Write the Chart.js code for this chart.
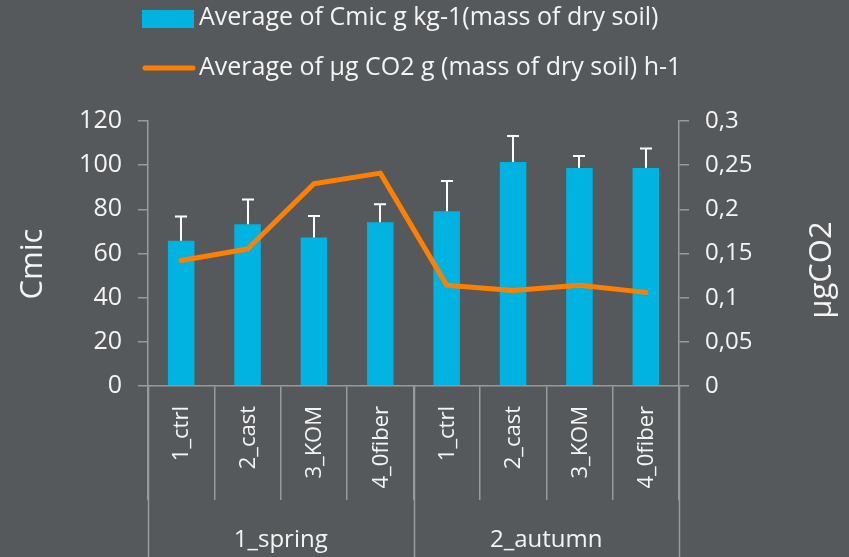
<!DOCTYPE html>
<html>
<head>
<meta charset="utf-8">
<script src="https://cdn.jsdelivr.net/npm/chart.js@4"></script>
<style>
  html, body { margin: 0; padding: 0; background: #55595c; }
  #wrap { width: 849px; height: 557px; }
</style>
</head>
<body>
<div id="wrap"><canvas id="chart" width="849" height="557"></canvas></div>
<script>
const seasons = ['1_spring', '2_autumn'];
const treatments = ['1_ctrl', '2_cast', '3_KOM', '4_0fiber'];
const categories = ['1_ctrl', '2_cast', '3_KOM', '4_0fiber', '1_ctrl', '2_cast', '3_KOM', '4_0fiber'];
const cmicValues = [65.8, 73.2, 67.2, 74.1, 79.1, 101.4, 98.7, 98.7];
const cmicErrors = [10.9, 11.2, 9.8, 8.2, 13.7, 11.8, 5.5, 8.9];
const co2Values = [0.142, 0.155, 0.229, 0.241, 0.114, 0.108, 0.114, 0.106];
const leftTicks = [0, 120, 20];
const rightTicks = [0, 0.3, 0.05];

const bg = '#55595c';
const textColor = '#f4f4f4';
const axisColor = '#9a9a9a';
const barColor = '#00b3e0';
const lineColor = '#ff8000';
const font = '"Open Sans", "Noto Sans", sans-serif';
const cmicLabel = 'Average of Cmic g kg-1(mass of dry soil)';
const co2Label = 'Average of µg CO2 g (mass of dry soil) h-1';

const decorations = {
  id: 'decorations',
  beforeDraw(chart) {
    const ctx = chart.ctx;
    ctx.save();
    ctx.fillStyle = bg;
    ctx.fillRect(0, 0, chart.width, chart.height);
    ctx.restore();
  },
  afterDatasetsDraw(chart) {
    const ctx = chart.ctx;
    const x = chart.scales.x;
    const y = chart.scales.y;
    const area = chart.chartArea;

    // error bars (upper only)
    ctx.save();
    ctx.strokeStyle = '#ffffff';
    ctx.lineWidth = 2;
    cmicValues.forEach((v, i) => {
      const px = Math.round(x.getPixelForValue(i));
      const top = y.getPixelForValue(v + cmicErrors[i]);
      const base = y.getPixelForValue(v);
      ctx.beginPath();
      ctx.moveTo(px, base);
      ctx.lineTo(px, top);
      ctx.moveTo(px - 6, top);
      ctx.lineTo(px + 6, top);
      ctx.stroke();
    });
    ctx.restore();

    // category labels, rotated
    ctx.save();
    ctx.fillStyle = textColor;
    ctx.font = '22px ' + font;
    ctx.textAlign = 'right';
    ctx.textBaseline = 'middle';
    categories.forEach((c, i) => {
      const px = x.getPixelForValue(i);
      ctx.save();
      ctx.translate(px + 1, area.bottom + 20);
      ctx.rotate(-Math.PI / 2);
      ctx.fillText(c, 0, 0);
      ctx.restore();
    });

    // group labels and separators
    const step = (area.right - area.left) / categories.length;
    ctx.font = '24px ' + font;
    ctx.textAlign = 'center';
    seasons.forEach((s, g) => {
      const left = area.left + g * treatments.length * step;
      const right = left + treatments.length * step;
      ctx.fillText(s, (left + right) / 2, 540);
    });
    ctx.strokeStyle = axisColor;
    ctx.lineWidth = 1.5;
    for (let g = 0; g <= seasons.length; g++) {
      const px = Math.round(area.left + g * treatments.length * step) + 0.5;
      ctx.beginPath();
      ctx.moveTo(px, area.bottom);
      ctx.lineTo(px, chart.height);
      ctx.stroke();
    }

    // axis titles
    ctx.font = '31px ' + font;
    ctx.textBaseline = 'middle';
    ctx.save();
    ctx.translate(33, 264);
    ctx.rotate(-Math.PI / 2);
    ctx.fillText('Cmic', 0, 0);
    ctx.restore();
    ctx.save();
    ctx.translate(822, 270);
    ctx.rotate(-Math.PI / 2);
    ctx.fillText('µgCO2', 0, 0);
    ctx.restore();

    // legend
    ctx.font = '25px ' + font;
    ctx.textAlign = 'left';
    ctx.fillStyle = barColor;
    ctx.fillRect(142, 10, 52, 18);
    ctx.strokeStyle = lineColor;
    ctx.lineWidth = 5;
    ctx.lineCap = 'round';
    ctx.beginPath();
    ctx.moveTo(145, 68);
    ctx.lineTo(193, 68);
    ctx.stroke();
    ctx.fillStyle = textColor;
    ctx.fillText(cmicLabel, 199, 18);
    ctx.fillText(co2Label, 199, 68);
    ctx.restore();
  }
};

const ctx = document.getElementById('chart').getContext('2d');
new Chart(ctx, {
  type: 'bar',
  data: {
    labels: categories.map((c, i) => i),
    datasets: [
      {
        type: 'line',
        label: co2Label,
        data: co2Values,
        yAxisID: 'y2',
        borderColor: lineColor,
        borderWidth: 5,
        pointRadius: 0,
        tension: 0,
        borderCapStyle: 'round',
        borderJoinStyle: 'round',
        order: 0
      },
      {
        type: 'bar',
        label: cmicLabel,
        data: cmicValues,
        yAxisID: 'y',
        backgroundColor: barColor,
        barPercentage: 0.4,
        categoryPercentage: 1.0,
        order: 1
      }
    ]
  },
  options: {
    responsive: false,
    animation: false,
    layout: { padding: { top: 121, left: 0, right: 0, bottom: 0 } },
    plugins: {
      legend: { display: false },
      tooltip: { enabled: false }
    },
    scales: {
      x: {
        type: 'category',
        offset: true,
        ticks: { display: false },
        grid: {
          offset: true,
          drawOnChartArea: false,
          color: axisColor,
          lineWidth: 1.5,
          tickLength: 114
        },
        border: { color: axisColor, width: 1.5 },
        afterFit(scale) { scale.height = 171; }
      },
      y: {
        position: 'left',
        min: leftTicks[0],
        max: leftTicks[1],
        ticks: {
          stepSize: leftTicks[2],
          color: textColor,
          font: { family: font, size: 25 },
          padding: 16
        },
        grid: {
          drawOnChartArea: false,
          color: axisColor,
          lineWidth: 1.5,
          tickLength: 10
        },
        border: { color: axisColor, width: 1.5 },
        afterFit(scale) { scale.width = 148; }
      },
      y2: {
        position: 'right',
        min: rightTicks[0],
        max: rightTicks[1],
        ticks: {
          stepSize: rightTicks[2],
          color: textColor,
          font: { family: font, size: 24 },
          padding: 16,
          callback: v => String(Math.round(v * 100) / 100).replace('.', ',')
        },
        grid: {
          drawOnChartArea: false,
          color: axisColor,
          lineWidth: 1.5,
          tickLength: 10
        },
        border: { color: axisColor, width: 1.5 },
        afterFit(scale) { scale.width = 170; }
      }
    }
  },
  plugins: [decorations]
});
</script>
</body>
</html>
